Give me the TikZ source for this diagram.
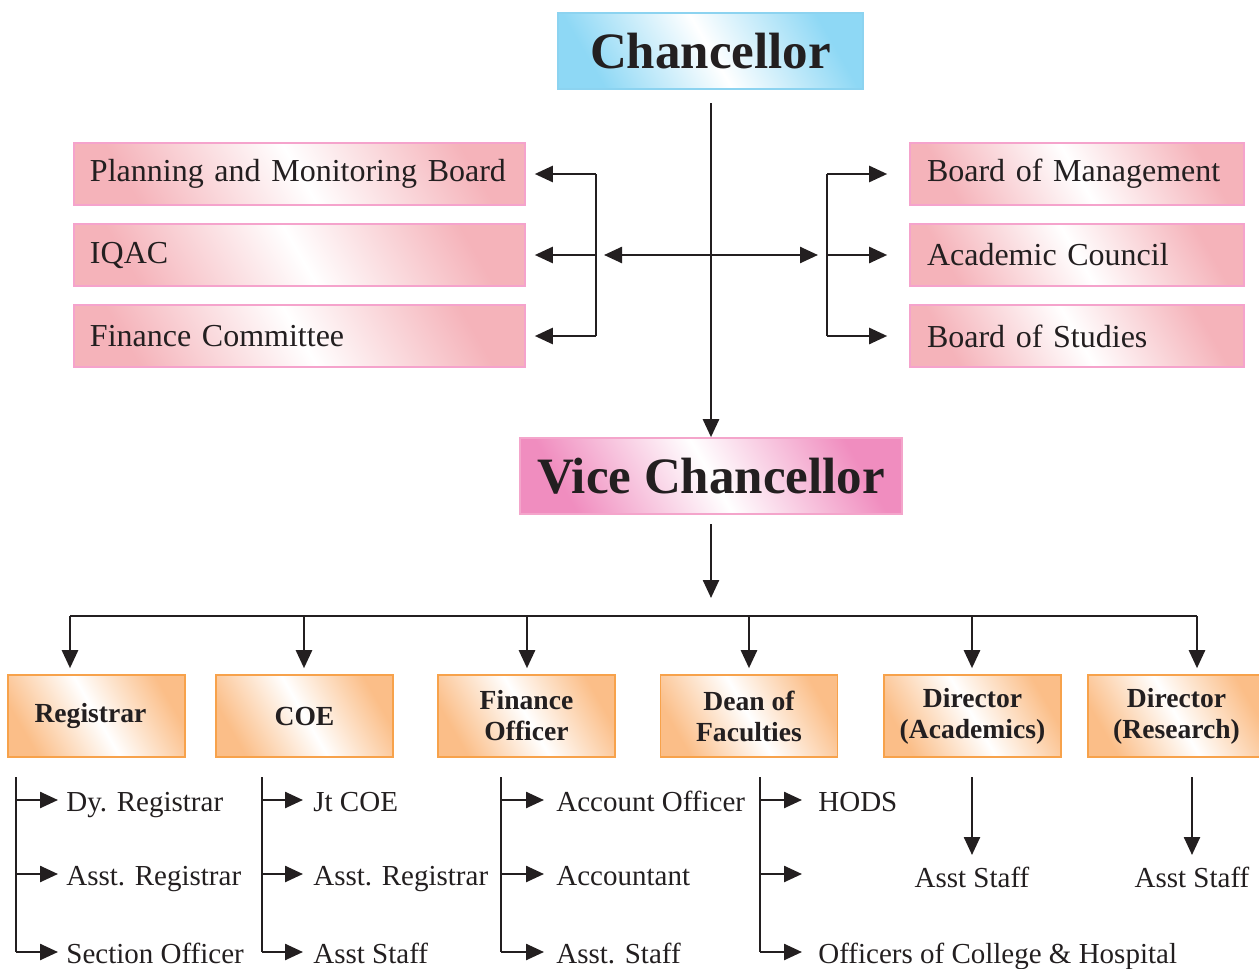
\documentclass[tikz,border=0pt]{standalone}
\usepackage{fontspec}
\setmainfont{Liberation Serif}
\usetikzlibrary{arrows.meta}
\definecolor{pinkc}{HTML}{F5B3BA}
\definecolor{pinkbd}{HTML}{F5A3CC}
\definecolor{vcc}{HTML}{F08DBF}
\definecolor{vcbd}{HTML}{F4A5CB}
\definecolor{bluec}{HTML}{8ED8F5}
\definecolor{bluebd}{HTML}{8CD3F0}
\definecolor{orc}{HTML}{FBBE88}
\definecolor{orbd}{HTML}{F7A24B}
\definecolor{ink}{HTML}{231F20}
\tikzset{
  ln/.style={draw=ink, line width=1.25pt},
  arr/.style={ln, -{Triangle[length=9pt,width=8pt]}},
  arrb/.style={ln, {Triangle[length=9pt,width=8pt]}-{Triangle[length=9pt,width=8pt]}},
  gbox/.style={draw=#1bd, line width=0.8pt, left color=#1c, right color=#1c, middle color=white, shading angle=120, text=ink},
  topbox/.style={gbox=pink, minimum height=31pt, inner xsep=8pt, align=left, font=\fontsize{16}{19}\selectfont},
  headbox/.style={gbox=#1, minimum height=38pt, font=\fontsize{25.5}{28}\selectfont\bfseries},
  obox/.style={gbox=or, minimum width=88.5pt, minimum height=41pt, inner sep=1pt, align=center, font=\fontsize{13.8}{15.5}\selectfont\bfseries},
  lt/.style={inner xsep=0pt, inner ysep=2pt, text=ink, font=\fontsize{14.5}{17}\selectfont},
}
\begin{document}
\begin{tikzpicture}[x=0.5pt,y=-0.5pt]
\useasboundingbox (0,0) rectangle (1259,969);
% top
\node[headbox=blue, minimum width=152.5pt] (ch) at (710.5,51) {Chancellor};
\node[headbox=vc, minimum width=191pt] (vc) at (711,476) {Vice Chancellor};
\coordinate (c0) at (711,103);
\draw[arr] (c0) -- (vc.north);
% left boxes
\node[topbox, text width=209.5pt] (pmb) at (299.5,174) {Planning and Monitoring Board};
\node[topbox, text width=209.5pt] (iqac) at (299.5,255) {IQAC};
\node[topbox, text width=209.5pt] (fc) at (299.5,336) {Finance Committee};
% right boxes
\node[topbox, text width=150pt, inner xsep=8.5pt] (bom) at (1077,174) {Board of Management};
\node[topbox, text width=150pt, inner xsep=8.5pt] (ac) at (1077,255) {Academic Council};
\node[topbox, text width=150pt, inner xsep=8.5pt] (bos) at (1077,336) {Board of Studies};
% double arrow
\coordinate (hl) at (604,255);
\coordinate (hr) at (818,255);
\draw[arrb] (hl) -- (hr);
% left bracket
\coordinate (lb1) at (596,174);
\coordinate (lb3) at (596,336);
\draw[ln] (lb1) -- (lb3);
\draw[arr, shorten >=4.5pt] (lb1) -- (pmb.east);
\draw[arr, shorten >=4.5pt] (lb1 |- iqac.east) -- (iqac.east);
\draw[arr, shorten >=4.5pt] (lb3) -- (fc.east);
% right bracket
\coordinate (rb1) at (827,174);
\coordinate (rb3) at (827,336);
\draw[ln] (rb1) -- (rb3);
\draw[arr, shorten >=11pt] (rb1) -- (bom.west);
\draw[arr, shorten >=11pt] (rb1 |- ac.west) -- (ac.west);
\draw[arr, shorten >=11pt] (rb3) -- (bos.west);
% VC down
\coordinate (v0) at (711,524);
\coordinate (v1) at (711,598);
\draw[arr] (v0) -- (v1);
% orange boxes
\node[obox] (reg) at (96.5,716) {Registrar\hspace*{6pt}};
\node[obox] (coe) at (304.5,716) {COE};
\node[obox] (fo) at (526.5,716) {Finance\\Officer};
\node[obox] (dean) at (749,716) {Dean of\\Faculties};
\node[obox] (da) at (972.5,716) {Director\\(Academics)};
\node[obox] (dr) at (1176.5,716) {Director\\(Research)};
% bus
\coordinate (b1) at (70,616);
\coordinate (b2) at (304,616);
\coordinate (b3) at (527,616);
\coordinate (b4) at (749,616);
\coordinate (b5) at (972,616);
\coordinate (b6) at (1197,616);
\draw[ln] (b1) -- (b6);
\draw[arr, shorten >=3pt] (b1) -- (b1 |- reg.north);
\draw[arr, shorten >=3pt] (b2) -- (b2 |- coe.north);
\draw[arr, shorten >=3pt] (b3) -- (b3 |- fo.north);
\draw[arr, shorten >=3pt] (b4) -- (b4 |- dean.north);
\draw[arr, shorten >=3pt] (b5) -- (b5 |- da.north);
\draw[arr, shorten >=3pt] (b6) -- (b6 |- dr.north);
% Registrar list
\coordinate (rt) at (16,777);
\coordinate (r1a) at (58,800);
\coordinate (r2a) at (58,874);
\coordinate (r3a) at (58,952);
\node[lt, anchor=base west] (r1) at (66,811) {Dy. Registrar};
\node[lt, anchor=base west] (r2) at (66,885) {Asst. Registrar};
\node[lt, anchor=base west] (r3) at (66,963) {Section Officer};
\draw[ln] (rt) -- (rt |- r3a);
\draw[arr] (rt |- r1a) -- (r1a);
\draw[arr] (rt |- r2a) -- (r2a);
\draw[arr] (rt |- r3a) -- (r3a);
% COE list
\coordinate (ct) at (262,777);
\coordinate (c1a) at (303,800);
\coordinate (c2a) at (303,874);
\coordinate (c3a) at (303,952);
\node[lt, anchor=base west] (c1) at (313,811) {Jt COE};
\node[lt, anchor=base west] (c2) at (313,885) {Asst. Registrar};
\node[lt, anchor=base west] (c3) at (313,963) {Asst Staff};
\draw[ln] (ct) -- (ct |- c3a);
\draw[arr] (ct |- c1a) -- (c1a);
\draw[arr] (ct |- c2a) -- (c2a);
\draw[arr] (ct |- c3a) -- (c3a);
% Finance list
\coordinate (ft) at (501,777);
\coordinate (f1a) at (544,800);
\coordinate (f2a) at (544,874);
\coordinate (f3a) at (544,952);
\node[lt, anchor=base west] (f1) at (556,811) {Account Officer};
\node[lt, anchor=base west] (f2) at (556,885) {Accountant};
\node[lt, anchor=base west] (f3) at (556,963) {Asst. Staff};
\draw[ln] (ft) -- (ft |- f3a);
\draw[arr] (ft |- f1a) -- (f1a);
\draw[arr] (ft |- f2a) -- (f2a);
\draw[arr] (ft |- f3a) -- (f3a);
% Dean list
\coordinate (dt) at (760,777);
\coordinate (d1a) at (802,800);
\coordinate (d2) at (802,874);
\coordinate (d3a) at (802,952);
\node[lt, anchor=base west] (d1) at (818,811) {HODS};
\node[lt, anchor=base west] (d3) at (818,963) {Officers of College \& Hospital};
\draw[ln] (dt) -- (dt |- d3a);
\draw[arr] (dt |- d1a) -- (d1a);
\draw[arr] (dt |- d2) -- (d2);
\draw[arr] (dt |- d3a) -- (d3a);
% Directors
\coordinate (at) at (972,777);
\node[lt, anchor=north] (a1) at (972,863) {Asst Staff};
\draw[arr, shorten >=4pt] (at) -- (at |- a1.north);
\coordinate (et) at (1192,777);
\node[lt, anchor=north] (e1) at (1192,863) {Asst Staff};
\draw[arr, shorten >=4pt] (et) -- (et |- e1.north);
\end{tikzpicture}
\end{document}
